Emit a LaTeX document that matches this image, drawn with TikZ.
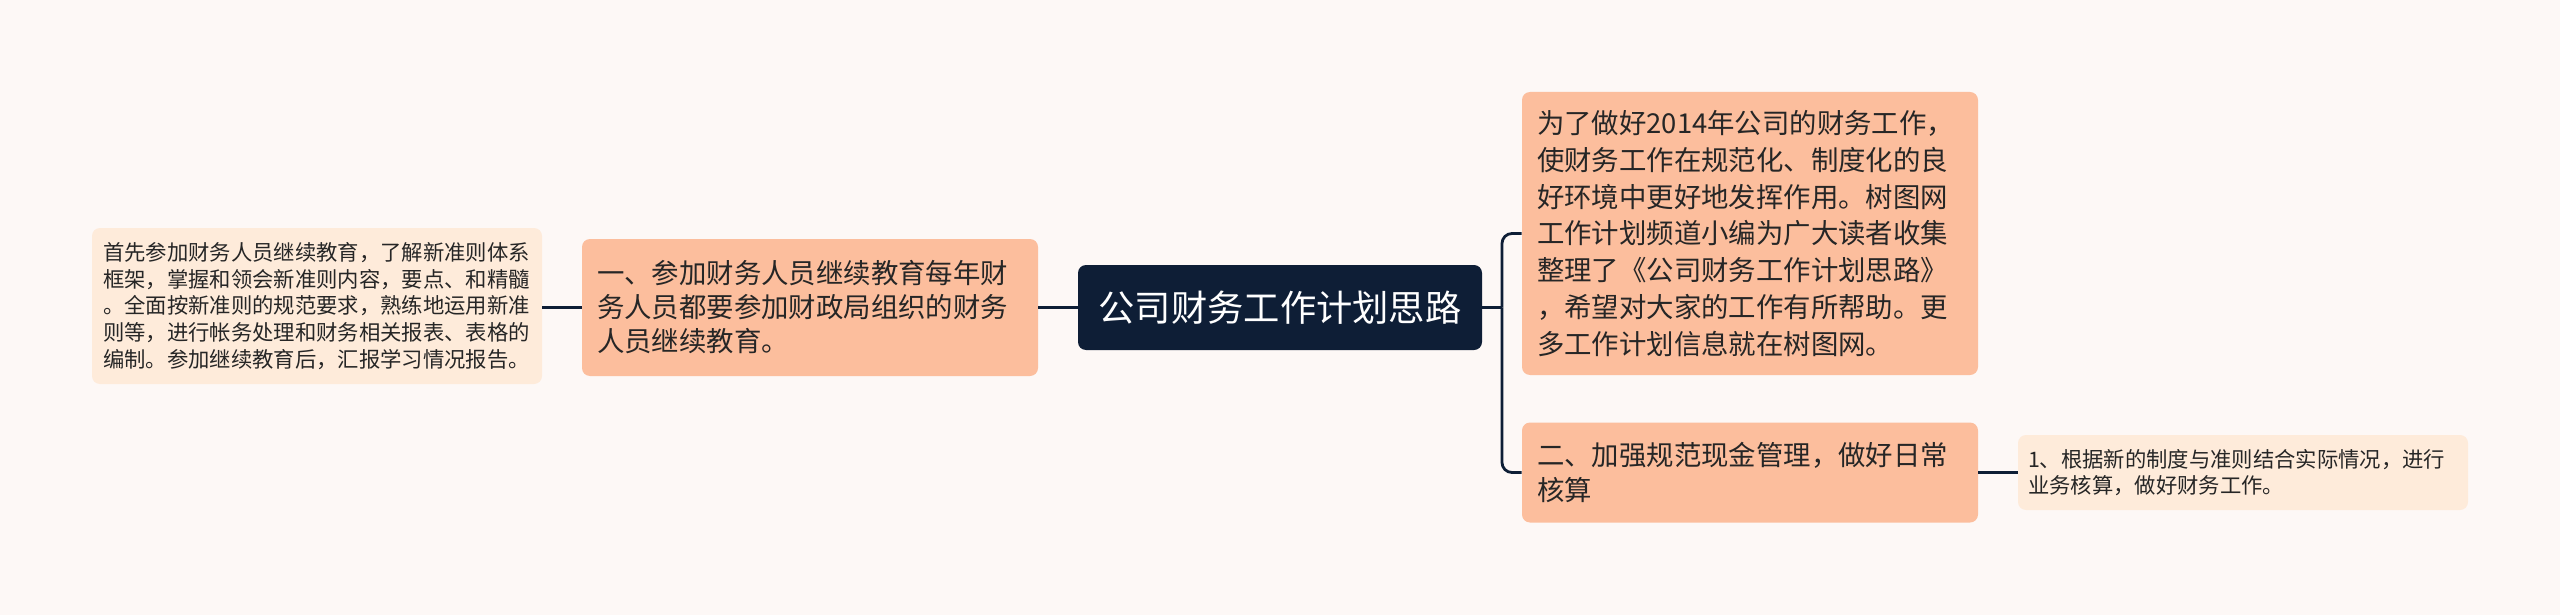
\documentclass[tikz,border=0pt]{standalone}
\usepackage{fontspec}
\newfontfamily\cjk{Noto Sans CJK SC}
\definecolor{bgc}{HTML}{FDF8F6}
\definecolor{salmon}{HTML}{FCBE9D}
\definecolor{cream}{HTML}{FEEBDA}
\definecolor{navy}{HTML}{0E1E36}
\definecolor{txt}{HTML}{262626}
\tikzset{
  box/.style={fill=salmon, rounded corners=4pt, inner xsep=7.5pt, inner ysep=0pt,
    text width=213pt, align=left, text=txt, anchor=center},
  leafbox/.style={fill=cream, rounded corners=4pt, inner ysep=0pt, align=left,
    text=txt, anchor=center},
  rootbox/.style={fill=navy, rounded corners=4pt, inner sep=0pt, text=white,
    align=center, minimum width=202pt, minimum height=42.5pt, anchor=center,
    font=\cjk\fontsize{18.15}{22}\selectfont},
  link/.style={draw=navy, line width=1.4pt},
}
\begin{document}
\begin{tikzpicture}[x=0.5pt, y=-0.5pt]
\fill[bgc] (0,0) rectangle (2560,615);
\useasboundingbox (0,0) rectangle (2560,615);

\node[rootbox] (root) at (1280,307.5) {公司财务工作计划思路};

\node[box, minimum height=68.5pt, font=\cjk\fontsize{13.7}{17}\selectfont] (b1) at (810,307.5)
  {一、参加财务人员继续教育每年财\\务人员都要参加财政局组织的财务\\人员继续教育。};

\node[leafbox, inner xsep=5.5pt, text width=214pt, minimum height=78pt,
  font=\cjk\fontsize{10.67}{13.4}\selectfont] (l1) at (317,306)
  {首先参加财务人员继续教育，了解新准则体系\\框架，掌握和领会新准则内容，要点、和精髓\\。全面按新准则的规范要求，熟练地运用新准\\则等，进行帐务处理和财务相关报表、表格的\\编制。参加继续教育后，汇报学习情况报告。};

\node[box, minimum height=141.5pt, font=\cjk\fontsize{13.7}{18.4}\selectfont] (r1) at (1750,233.5)
  {为了做好2014年公司的财务工作，\\使财务工作在规范化、制度化的良\\好环境中更好地发挥作用。树图网\\工作计划频道小编为广大读者收集\\整理了《公司财务工作计划思路》\\，希望对大家的工作有所帮助。更\\多工作计划信息就在树图网。};

\node[box, minimum height=50pt, font=\cjk\fontsize{13.7}{17.5}\selectfont] (r2) at (1750,472.5)
  {二、加强规范现金管理，做好日常\\核算};

\node[leafbox, inner xsep=5pt, text width=215pt, minimum height=37.5pt,
  font=\cjk\fontsize{10.67}{13.3}\selectfont] (l2) at (2243,472.5)
  {1、根据新的制度与准则结合实际情况，进行\\业务核算，做好财务工作。};

\coordinate (fork) at (1502,307.5);
\draw[link] (l1.east |- b1.west) -- (b1.west);
\draw[link] (b1.east) -- (root.west);
\draw[link] (root.east) -- (fork);
\draw[link, rounded corners=5pt] (fork) |- (r1.west);
\draw[link, rounded corners=5pt] (fork) |- (r2.west);
\draw[link] (r2.east) -- (l2.west);
\end{tikzpicture}
\end{document}
